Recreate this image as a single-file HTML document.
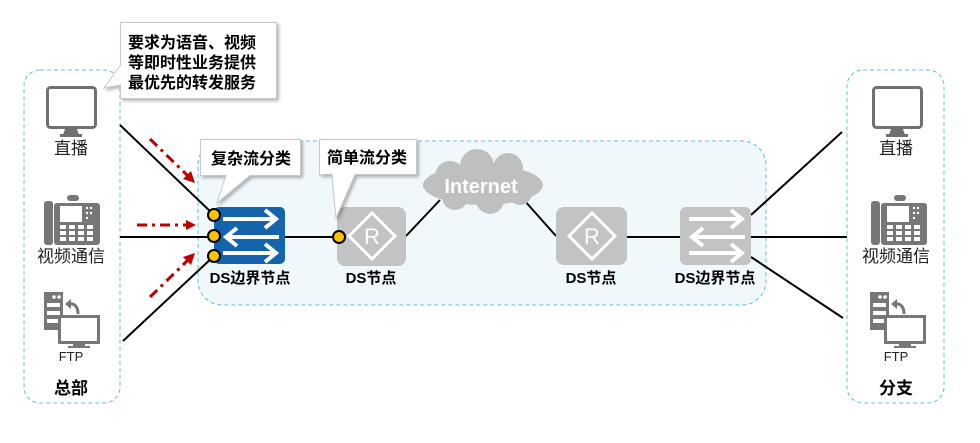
<!DOCTYPE html>
<html><head><meta charset="utf-8"><style>
html,body{margin:0;padding:0;background:#fff;}
svg{display:block;font-family:"Liberation Sans","Noto Sans CJK SC",sans-serif;}
</style></head><body>
<svg width="980" height="443" viewBox="0 0 980 443" xmlns="http://www.w3.org/2000/svg">
<defs>
<g id="mon">
 <rect x="1.5" y="1.5" width="48" height="40" rx="3" fill="#fff" stroke="#707070" stroke-width="3"/>
 <path d="M19 43 L31 43 L33 49 L17 49 Z" fill="#707070"/>
 <rect x="14" y="48" width="22" height="3" fill="#707070"/>
</g>
<g id="phone">
 <rect x="0" y="6" width="9" height="44" rx="3" fill="#777"/>
 <rect x="10" y="8" width="46" height="42" rx="3" fill="#777"/>
 <rect x="23" y="0" width="12" height="6" rx="3" fill="#777"/>
 <rect x="16" y="11" width="22" height="16" fill="#fff"/>
 <g fill="#fff">
  <rect x="16" y="30" width="6" height="4"/><rect x="25" y="30" width="6" height="4"/><rect x="34" y="30" width="6" height="4"/><rect x="43" y="30" width="6" height="4"/>
  <rect x="16" y="36" width="6" height="4"/><rect x="25" y="36" width="6" height="4"/><rect x="34" y="36" width="6" height="4"/><rect x="43" y="36" width="6" height="4"/>
  <rect x="16" y="42" width="6" height="4"/><rect x="25" y="42" width="6" height="4"/><rect x="34" y="42" width="6" height="4"/><rect x="43" y="42" width="6" height="4"/>
  <circle cx="43" cy="13" r="1.2"/><circle cx="47" cy="13" r="1.2"/><circle cx="43" cy="18" r="1.2"/><circle cx="47" cy="18" r="1.2"/><circle cx="43" cy="23" r="1.2"/>
 </g>
</g>
<g id="ftp">
 <rect x="0" y="0" width="19" height="38" fill="#777"/>
 <circle cx="10" cy="5" r="1.8" fill="#fff"/><circle cx="15" cy="5" r="1.8" fill="#fff"/>
 <rect x="3" y="11" width="13" height="4" fill="#fff"/><rect x="3" y="19" width="13" height="4" fill="#fff"/><rect x="3" y="27" width="13" height="4" fill="#fff"/>
 <path d="M34 22 C34 14 30 11 24 12" fill="none" stroke="#777" stroke-width="3"/>
 <path d="M21 12 L27 7 L27 17 Z" fill="#777"/>
 <rect x="15.5" y="24.5" width="39" height="26" fill="#fff" stroke="#777" stroke-width="3"/>
 <rect x="29" y="51" width="12" height="4" fill="#777"/><rect x="24" y="54" width="22" height="2" fill="#777"/>
</g>
<g id="sw">
 <g stroke="#fff" stroke-width="4" fill="none" stroke-linecap="butt">
  <path d="M8 12 L60 12 M50 3 L61 12 L50 21"/>
  <path d="M64 30 L12 30 M22 21 L11 30 L22 39"/>
  <path d="M8 46 L60 46 M50 37 L61 46 L50 55"/>
 </g>
</g>
<g id="rt">
 <path d="M35 6 L58 29 L35 52 L12 29 Z" fill="none" stroke="#fff" stroke-width="3"/>
 <text x="35" y="37" text-anchor="middle" font-size="22" fill="#fff">R</text>
</g>
<filter id="sh" x="-10%" y="-10%" width="130%" height="130%"><feDropShadow dx="2" dy="2" stdDeviation="1.5" flood-color="#000" flood-opacity="0.3"/></filter>
</defs>

<rect x="24" y="70" width="96" height="333" rx="16" fill="none" stroke="#5bc4d6" stroke-dasharray="4,3"/>
<rect x="847" y="70" width="97" height="333" rx="16" fill="none" stroke="#5bc4d6" stroke-dasharray="4,3"/>
<rect x="198" y="141" width="568" height="164" rx="24" fill="#f1f8fc" stroke="#5bc4d6" stroke-dasharray="4,3"/>

<g stroke="#000" stroke-width="2">
 <line x1="120" y1="125" x2="214" y2="215"/>
 <line x1="120" y1="237" x2="214" y2="237"/>
 <line x1="123" y1="341" x2="214" y2="256"/>
 <line x1="285" y1="237" x2="337" y2="237"/>
 <line x1="406" y1="236" x2="440" y2="200"/>
 <line x1="524" y1="200" x2="556" y2="236"/>
 <line x1="627" y1="237" x2="680" y2="237"/>
 <line x1="751" y1="215" x2="842" y2="132"/>
 <line x1="751" y1="237" x2="847" y2="237"/>
 <line x1="751" y1="257" x2="843" y2="318"/>
</g>

<g stroke="#c00000" stroke-width="3" stroke-dasharray="10,5,3,5" fill="none">
 <line x1="150" y1="139" x2="188" y2="176"/>
 <line x1="137" y1="225" x2="187" y2="225"/>
 <line x1="150" y1="297" x2="188" y2="260"/>
</g>
<g fill="#c00000">
 <path d="M195 183 L183 179 L191 171 Z"/>
 <path d="M196 225 L186 220 L186 230 Z"/>
 <path d="M195 253 L191 265 L183 257 Z"/>
</g>

<rect x="214" y="207" width="71" height="57" rx="5" fill="#1464ad"/>
<use href="#sw" x="215" y="207"/>
<rect x="337" y="207" width="69" height="59" rx="8" fill="#c3c3c3"/>
<use href="#rt" x="337" y="207"/>
<rect x="556" y="207" width="71" height="58" rx="8" fill="#c3c3c3"/>
<use href="#rt" x="557" y="207"/>
<rect x="680" y="207" width="71" height="58" rx="6" fill="#c3c3c3"/>
<use href="#sw" x="681" y="207"/>

<g fill="#bfbfbf">
 <ellipse cx="483" cy="185" rx="60" ry="20"/>
 <circle cx="450" cy="176" r="15"/><circle cx="477" cy="166" r="17"/><circle cx="508" cy="168" r="15"/>
 <circle cx="455" cy="197" r="13"/><circle cx="490" cy="200" r="14"/><circle cx="520" cy="193" r="12"/>
</g>
<text x="481" y="193" text-anchor="middle" font-size="20" font-weight="bold" fill="#fff">Internet</text>

<g fill="#ffc000" stroke="#000" stroke-width="2">
 <circle cx="214" cy="215" r="6"/><circle cx="214" cy="236" r="6"/><circle cx="214" cy="256" r="6"/>
 <circle cx="339" cy="237" r="6"/>
</g>

<g font-size="15" font-weight="bold" fill="#000" text-anchor="middle">
 <text x="250" y="283">DS边界节点</text>
 <text x="371" y="283">DS节点</text>
 <text x="591" y="283">DS节点</text>
 <text x="715" y="283">DS边界节点</text>
 <text x="71" y="394" font-size="17">总部</text>
 <text x="896" y="394" font-size="17">分支</text>
</g>
<g font-size="17" fill="#222" text-anchor="middle">
 <text x="71" y="154">直播</text>
 <text x="71" y="262">视频通信</text>
 <text x="896" y="154">直播</text>
 <text x="896" y="262">视频通信</text>
</g>
<g font-size="13" fill="#222" text-anchor="middle">
 <text x="71" y="361">FTP</text>
 <text x="896" y="361">FTP</text>
</g>

<use href="#mon" x="46" y="86"/>
<use href="#mon" x="872" y="86"/>
<use href="#phone" x="44" y="195"/>
<use href="#phone" x="871" y="195"/>
<use href="#ftp" x="44" y="292"/>
<use href="#ftp" x="870" y="292"/>

<g filter="url(#sh)">
 <path d="M120.5 22.5 L276.5 22.5 L276.5 98.5 L120.5 98.5 L120.5 85 L104 88 L120.5 65 Z" fill="#fff" stroke="#c8c8c8"/>
 <path d="M200.5 139.5 L300.5 139.5 L300.5 175.5 L250 175.5 L217 203 L226 175.5 L200.5 175.5 Z" fill="#fff" stroke="#c8c8c8"/>
 <path d="M319.5 139.5 L416.5 139.5 L416.5 174.5 L355 174.5 L336 218 L332 174.5 L319.5 174.5 Z" fill="#fff" stroke="#c8c8c8"/>
</g>
<g font-size="16" font-weight="bold" fill="#000">
 <text x="128" y="48">要求为语音、视频</text>
 <text x="128" y="68">等即时性业务提供</text>
 <text x="128" y="88">最优先的转发服务</text>
 <text x="211" y="164">复杂流分类</text>
 <text x="327" y="163">简单流分类</text>
</g>
</svg>
</body></html>
